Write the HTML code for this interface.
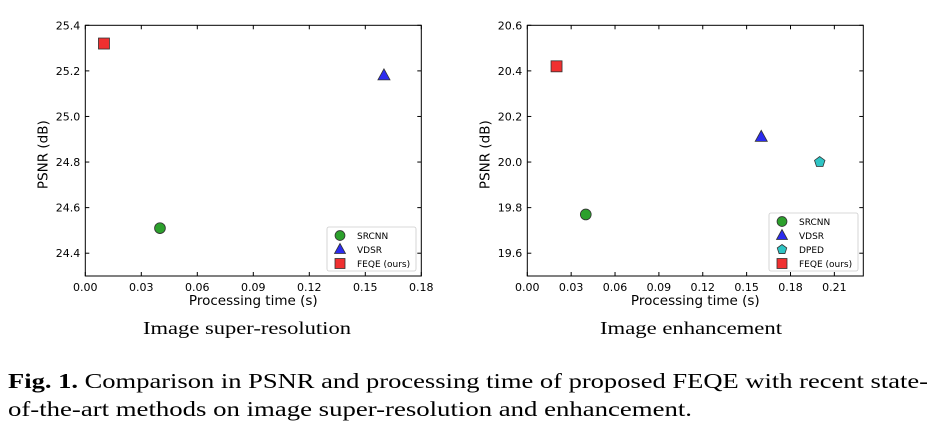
<!DOCTYPE html>
<html><head><meta charset="utf-8"><style>
html,body{margin:0;padding:0;background:#fff;}
svg{display:block;}
</style></head><body>
<svg id="fig" width="937" height="430" xmlns="http://www.w3.org/2000/svg">
<g id="left"></g>
<g id="right"></g>
<text x="247" y="334" text-anchor="middle" font-family="Liberation Serif, serif" font-size="18" textLength="208" lengthAdjust="spacingAndGlyphs">Image super-resolution</text>
<text x="691" y="334" text-anchor="middle" font-family="Liberation Serif, serif" font-size="18" textLength="182" lengthAdjust="spacingAndGlyphs">Image enhancement</text>
<text x="8" y="388" font-family="Liberation Serif, serif" font-size="21" textLength="920" lengthAdjust="spacingAndGlyphs"><tspan font-weight="bold">Fig. 1.</tspan> Comparison in PSNR and processing time of proposed FEQE with recent state-</text>
<text x="8" y="416" font-family="Liberation Serif, serif" font-size="21" textLength="684" lengthAdjust="spacingAndGlyphs">of-the-art methods on image super-resolution and enhancement.</text>
</svg>
<script>
// Left chart data
const srMethods = ["SRCNN", "VDSR", "FEQE (ours)"];
const srTime = [0.04, 0.16, 0.01];
const srPsnr = [24.51, 25.18, 25.32];
const srXTicks = ["0.00","0.03","0.06","0.09","0.12","0.15","0.18"];
const srYTicks = ["24.4","24.6","24.8","25.0","25.2","25.4"];
// Right chart data
const enMethods = ["SRCNN", "VDSR", "DPED", "FEQE (ours)"];
const enTime = [0.04, 0.16, 0.20, 0.02];
const enPsnr = [19.77, 20.11, 20.00, 20.42];
const enXTicks = ["0.00","0.03","0.06","0.09","0.12","0.15","0.18","0.21"];
const enYTicks = ["19.6","19.8","20.0","20.2","20.4","20.6"];

const NS = "http://www.w3.org/2000/svg";
const styles = {
  "SRCNN": {shape:"circle", fill:"#2ca02c"},
  "VDSR": {shape:"triangle", fill:"#2b2bf0"},
  "DPED": {shape:"pentagon", fill:"#2ec4c4"},
  "FEQE (ours)": {shape:"square", fill:"#f03030"}
};
function mk(tag, attrs, parent){
  const e=document.createElementNS(NS,tag);
  for(const k in attrs) e.setAttribute(k,attrs[k]);
  parent.appendChild(e); return e;
}
function marker(g, shape, cx, cy, fill, s){
  let e;
  if(shape==="circle") e=mk("circle",{cx:cx,cy:cy,r:s*0.45},g);
  else if(shape==="square") e=mk("rect",{x:cx-s*0.5,y:cy-s*0.5,width:s,height:s},g);
  else if(shape==="triangle") e=mk("polygon",{points:`${cx},${cy-s*0.6} ${cx-s*0.55},${cy+s*0.4} ${cx+s*0.55},${cy+s*0.4}`},g);
  else { let p=[]; for(let i=0;i<5;i++){const a=-Math.PI/2+i*2*Math.PI/5;p.push((cx+s*0.5*Math.cos(a)).toFixed(2)+","+(cy+s*0.5*Math.sin(a)).toFixed(2));} e=mk("polygon",{points:p.join(" ")},g);}
  e.setAttribute("fill",fill); e.setAttribute("stroke","#333"); e.setAttribute("stroke-width","0.8");
  return e;
}
function chart(g, L, R, T, B, xmin, xmax, ymin, ymax, xt, yt, methods, xs, ys, legBox){
  const X=v=>L+(v-xmin)/(xmax-xmin)*(R-L);
  const Y=v=>B-(v-ymin)/(ymax-ymin)*(B-T);
  const frame=mk("rect",{x:L,y:T,width:R-L,height:B-T,fill:"none",stroke:"#000","stroke-width":1},g);
  
  
  xt.forEach(t=>{
    const x=X(parseFloat(t));
    mk("line",{x1:x,x2:x,y1:B,y2:B-4,stroke:"#000"},g);
    mk("line",{x1:x,x2:x,y1:T,y2:T+4,stroke:"#000"},g);
    const tx=mk("text",{x:x,y:B+15,"text-anchor":"middle","font-family":"DejaVu Sans, sans-serif","font-size":"11"},g);
    tx.textContent=t;
    
    
  });
  yt.forEach(t=>{
    const y=Y(parseFloat(t));
    mk("line",{x1:L,x2:L+4,y1:y,y2:y,stroke:"#000"},g);
    mk("line",{x1:R,x2:R-4,y1:y,y2:y,stroke:"#000"},g);
    const tx=mk("text",{x:L-5,y:y+4,"text-anchor":"end","font-family":"DejaVu Sans, sans-serif","font-size":"11"},g);
    tx.textContent=t;
    
    
  });
  const xl=mk("text",{x:(L+R)/2,y:B+29,"text-anchor":"middle","font-family":"DejaVu Sans, sans-serif","font-size":"13.5"},g);
  xl.textContent="Processing time (s)";
  
  
  const yl=mk("text",{x:0,y:0,"text-anchor":"middle","font-family":"DejaVu Sans, sans-serif","font-size":"13.5",transform:`translate(${L-38},${(T+B)/2+4}) rotate(-90)`},g);
  yl.textContent="PSNR (dB)";
  
  
  methods.forEach((m,i)=>{
    const st=styles[m];
    const e=marker(g,st.shape,X(xs[i]),Y(ys[i]),st.fill,st.shape==="circle"?12:11);
    
    
  });
  const lg=mk("g",{},g);
  
  
  mk("rect",{x:legBox[0],y:legBox[1],width:legBox[2],height:legBox[3],fill:"#fff",stroke:"#ccc","stroke-width":0.8,rx:2},lg);
  methods.forEach((m,i)=>{
    const st=styles[m];
    const cy=legBox[1]+8.5+i*14;
    const e=marker(lg,st.shape,legBox[0]+13,cy,st.fill,st.shape==="circle"?11:10);
    
    
    const t=mk("text",{x:legBox[0]+30,y:cy+3.5,"font-family":"DejaVu Sans, sans-serif","font-size":"9"},lg);
    t.textContent=m;
    
    
  });
}
chart(document.getElementById("left"),85.3,421.3,25.3,276,0,0.18,24.3,25.4,srXTicks,srYTicks,srMethods,srTime,srPsnr,[327,227,89,44]);
chart(document.getElementById("right"),527.3,863.3,25.3,276,0,0.2298,19.5,20.6,enXTicks,enYTicks,enMethods,enTime,enPsnr,[769,213,89,58]);
</script>
</body></html>
